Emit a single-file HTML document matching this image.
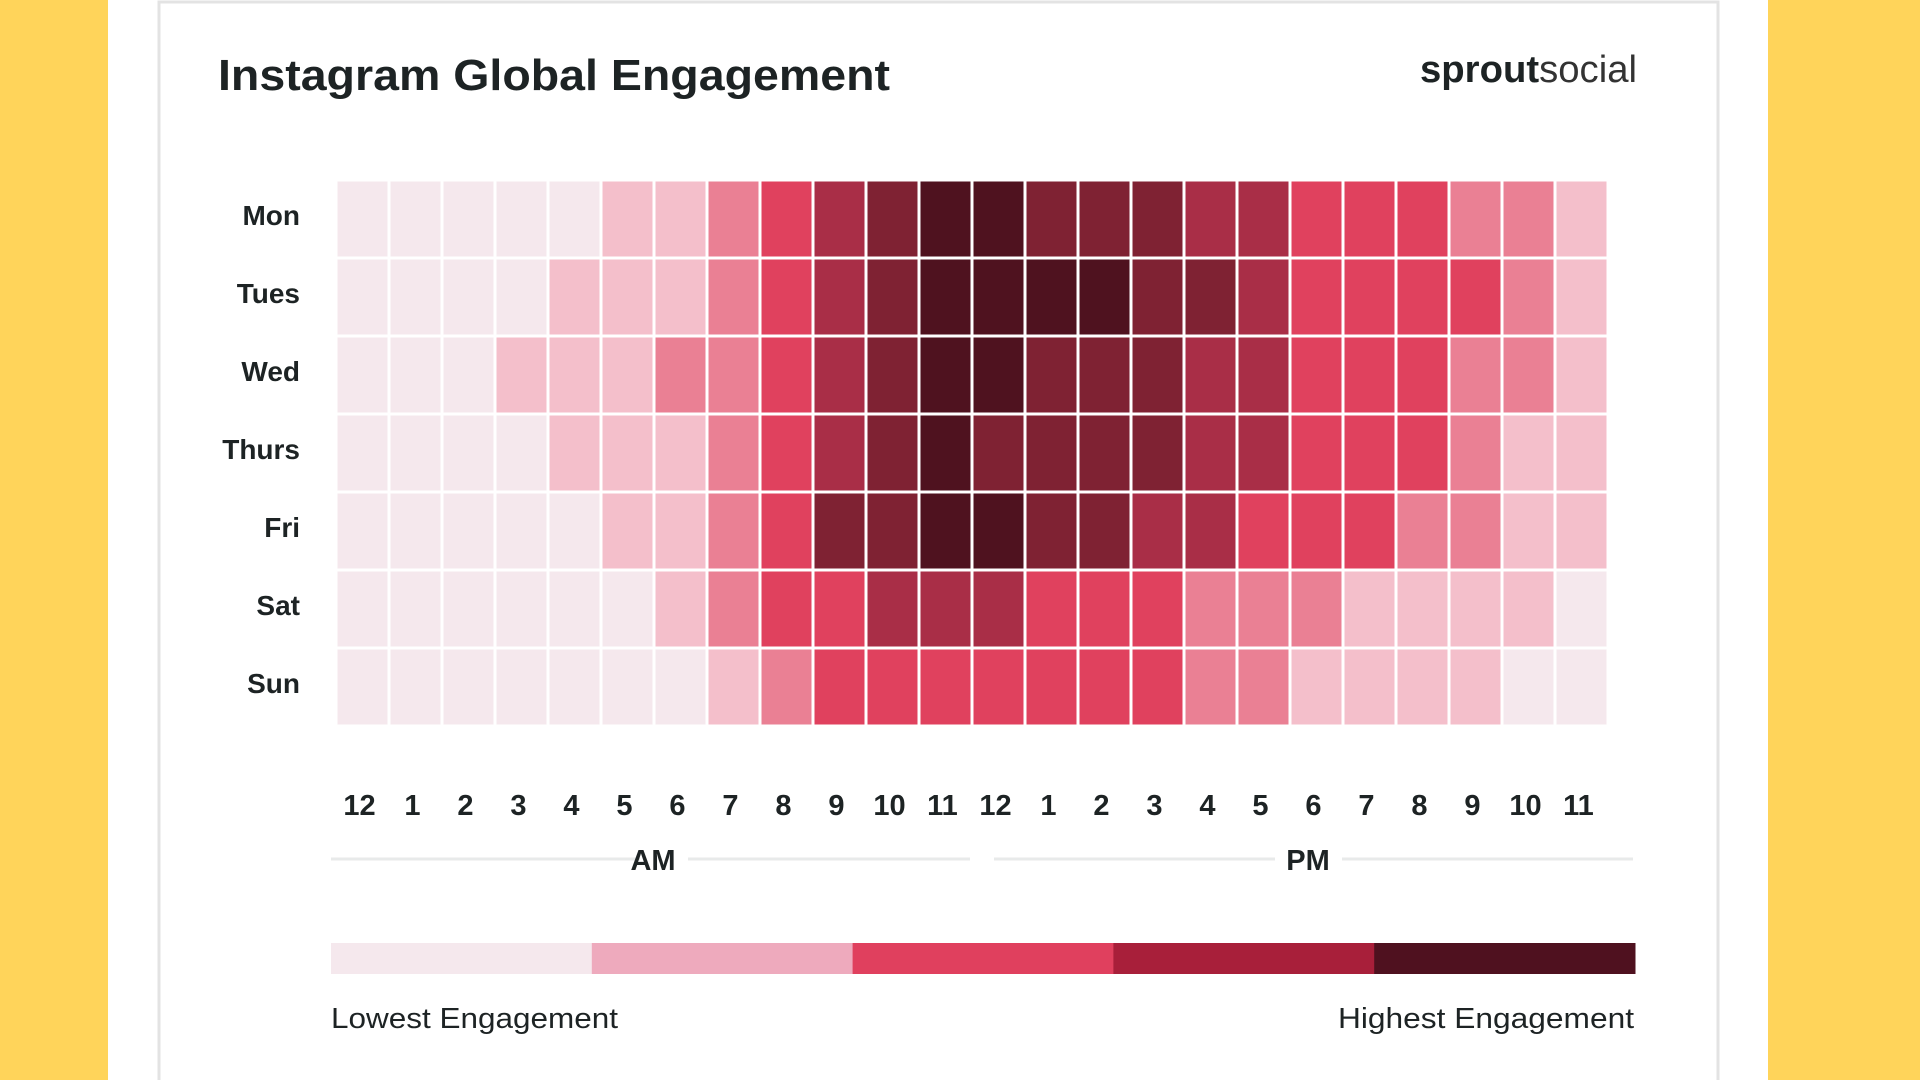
<!DOCTYPE html>
<html><head><meta charset="utf-8"><style>
html,body{margin:0;padding:0;width:1920px;height:1080px;overflow:hidden;background:#ffd45a;}
svg{display:block;}
text{font-family:"Liberation Sans",sans-serif;fill:#1d2324;}
</style></head><body>
<svg id="chart" width="1920" height="1080" viewBox="0 0 1920 1080">
<rect x="0" y="0" width="1920" height="1080" fill="#ffd45a"/>
<rect x="108" y="0" width="1660" height="1080" fill="#ffffff"/>
<rect x="159" y="2" width="1559" height="1090" fill="#ffffff" stroke="#e3e3e3" stroke-width="3"/>
<text x="218" y="90" font-size="44" font-weight="bold" textLength="672" lengthAdjust="spacingAndGlyphs">Instagram Global Engagement</text>
<g>
<text x="1420" y="82" font-size="38" textLength="217" lengthAdjust="spacingAndGlyphs"><tspan font-weight="bold">sprout</tspan><tspan fill="#333">social</tspan></text>
</g>
<g id="cells"></g>
<g id="rowlabels"></g>
<g id="hourlabels"></g>
<line x1="331" y1="859" x2="640" y2="859" stroke="#e8eaea" stroke-width="3"/>
<line x1="688" y1="859" x2="970" y2="859" stroke="#e8eaea" stroke-width="3"/>
<text x="653" y="870" font-size="29" font-weight="bold" text-anchor="middle">AM</text>
<line x1="994" y1="859" x2="1275" y2="859" stroke="#e8eaea" stroke-width="3"/>
<line x1="1342" y1="859" x2="1633" y2="859" stroke="#e8eaea" stroke-width="3"/>
<text x="1308" y="870" font-size="29" font-weight="bold" text-anchor="middle">PM</text>
<g id="legend"></g>
<text x="331" y="1028" font-size="29" fill="#333" textLength="287" lengthAdjust="spacingAndGlyphs">Lowest Engagement</text>
<text x="1634" y="1028" font-size="29" fill="#333" text-anchor="end" textLength="296" lengthAdjust="spacingAndGlyphs">Highest Engagement</text>
</svg>
<script>
const days = ["Mon","Tues","Wed","Thurs","Fri","Sat","Sun"];
const hours = ["12","1","2","3","4","5","6","7","8","9","10","11","12","1","2","3","4","5","6","7","8","9","10","11"];
const monLevels   = [0,0,0,0,0,1,1,2,3,4,5,6,6,5,5,5,4,4,3,3,3,2,2,1];
const tuesLevels  = [0,0,0,0,1,1,1,2,3,4,5,6,6,6,6,5,5,4,3,3,3,3,2,1];
const wedLevels   = [0,0,0,1,1,1,2,2,3,4,5,6,6,5,5,5,4,4,3,3,3,2,2,1];
const thursLevels = [0,0,0,0,1,1,1,2,3,4,5,6,5,5,5,5,4,4,3,3,3,2,1,1];
const friLevels   = [0,0,0,0,0,1,1,2,3,5,5,6,6,5,5,4,4,3,3,3,2,2,1,1];
const satLevels   = [0,0,0,0,0,0,1,2,3,3,4,4,4,3,3,3,2,2,2,1,1,1,1,0];
const sunLevels   = [0,0,0,0,0,0,0,1,2,3,3,3,3,3,3,3,2,2,1,1,1,1,0,0];
const levelColors = ["#f5e8ed","#f4bfcb","#ea8094","#e0415e","#a92e47","#7f2233","#4f121f"];
const legendColors = ["#f5e8ed","#eeaabd","#e0405e","#a81f3a","#4f111f"];
const series = [monLevels,tuesLevels,wedLevels,thursLevels,friLevels,satLevels,sunLevels];

const NS="http://www.w3.org/2000/svg";
const gx0=336, gx1=1608, gy0=180, gy1=726;
const cw=(gx1-gx0)/hours.length, ch=(gy1-gy0)/days.length;
const xPos=i=>gx0+i*cw, yPos=j=>gy0+j*ch;
const cells=document.getElementById('cells');
series.forEach((row,j)=>{
  row.forEach((v,i)=>{
    const r=document.createElementNS(NS,'rect');
    r.setAttribute('x',xPos(i)+1.5);r.setAttribute('y',yPos(j)+1.5);
    r.setAttribute('width',cw-3);r.setAttribute('height',ch-3);
    r.setAttribute('fill',levelColors[v]);
    
    
    cells.appendChild(r);
  });
});
const rl=document.getElementById('rowlabels');
days.forEach((d,j)=>{
  const t=document.createElementNS(NS,'text');
  t.setAttribute('x',300);t.setAttribute('y',yPos(j)+ch/2+6);
  t.setAttribute('font-size','28');t.setAttribute('font-weight','bold');t.setAttribute('text-anchor','end');
  t.textContent=d;
  
  
  rl.appendChild(t);
});
const hl=document.getElementById('hourlabels');
hours.forEach((h,i)=>{
  const t=document.createElementNS(NS,'text');
  t.setAttribute('x',xPos(i)+cw/2-3);t.setAttribute('y',815);
  t.setAttribute('font-size','29');t.setAttribute('font-weight','bold');t.setAttribute('text-anchor','middle');
  t.textContent=h;
  
  
  hl.appendChild(t);
});
const lg=document.getElementById('legend');
const lx0=331,lx1=1635,lw=(lx1-lx0)/legendColors.length;
legendColors.forEach((c,i)=>{
  const r=document.createElementNS(NS,'rect');
  r.setAttribute('x',lx0+i*lw);r.setAttribute('y',943);
  r.setAttribute('width',lw+0.5);r.setAttribute('height',31);
  r.setAttribute('fill',c);
  
  
  lg.appendChild(r);
});
</script>
</body></html>
